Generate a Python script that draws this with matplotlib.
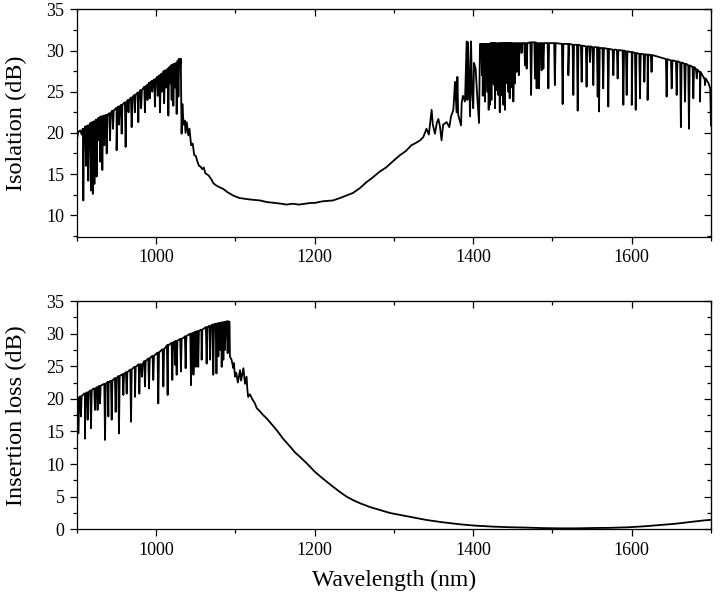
import numpy as np
import matplotlib
matplotlib.use("Agg")
import matplotlib.pyplot as plt
from matplotlib.ticker import MultipleLocator

plt.rcParams['font.family'] = ['Liberation Serif', 'DejaVu Serif']

# ---- isolation (top panel) ----
# upper envelope / smooth part of the curve
iso_wl = [900, 901.5, 904, 906, 907.5, 910, 920, 930, 940, 950, 960, 970, 980, 990,
          1000, 1010, 1020, 1025, 1029, 1030, 1031, 1032, 1033, 1034.5, 1036, 1037,
          1038.5, 1040.5, 1042, 1044, 1046, 1048, 1050, 1052, 1054, 1056, 1058, 1060,
          1062, 1066, 1070, 1072, 1076, 1080, 1084.6, 1090, 1097, 1105, 1112, 1120,
          1131, 1140, 1150, 1158, 1164.6, 1172, 1180, 1188, 1195, 1200, 1210, 1223,
          1232, 1240, 1248, 1257, 1265, 1272, 1282, 1290, 1298, 1307.6, 1315, 1322,
          1328, 1333, 1337, 1341, 1344, 1347.5, 1349, 1351.7, 1354, 1356, 1358, 1360,
          1362, 1366.5, 1369.8, 1372, 1374.9, 1377, 1379, 1380, 1381, 1384.6, 1385.4,
          1387, 1389.6, 1391.7, 1392.6, 1393.5, 1396, 1397.2, 1398.5, 1400, 1401,
          1403, 1405, 1407.3, 1408.5, 1410, 1440, 1470, 1500, 1520, 1540, 1560, 1580,
          1600, 1620, 1635, 1642, 1660, 1670, 1680, 1686, 1692, 1697, 1699, 1700]
iso_db = [19.2, 20.1, 20.3, 19.8, 20.4, 20.6, 21.3, 22.0, 22.3, 23.0, 23.7, 24.3, 25.1, 25.9,
          26.6, 27.4, 28.2, 28.5, 29.0, 28.0, 29.0, 19.9, 23.5, 21.0, 21.5, 20.0,
          21.3, 19.7, 20.5, 18.5, 18.7, 17.3, 17.2, 16.5, 16.0, 15.9, 15.6, 15.8,
          15.1, 14.85, 14.3, 13.9, 13.6, 13.4, 13.2, 12.8, 12.4, 12.1, 12.0, 11.9,
          11.8, 11.6, 11.5, 11.4, 11.3, 11.4, 11.3, 11.4, 11.5, 11.5, 11.7, 11.8,
          12.1, 12.4, 12.7, 13.3, 14.0, 14.5, 15.3, 15.8, 16.5, 17.3, 17.8, 18.5,
          18.8, 19.1, 19.5, 20.5, 19.8, 22.8, 21.0, 19.9, 21.2, 21.7, 20.8, 19.1,
          21.0, 21.3, 20.7, 22.0, 22.8, 26.2, 22.5, 26.8, 22.2, 20.9, 23.6,
          24.5, 23.8, 31.1, 24.0, 31.0, 22.0, 31.1, 25.0, 23.0, 28.5,
          27.8, 24.5, 21.2, 30.8, 30.8, 30.9, 30.95, 30.9, 30.8, 30.55, 30.3, 30.1,
          29.8, 29.5, 29.2, 29.0, 28.6, 28.3, 27.9, 27.4, 26.6, 26.0, 25.4, 20.9]
# narrow dips: position, level just beside the dip, level at the bottom
iso_dip_wl = [908, 911.5, 914.3, 917.7, 920, 922, 924.8, 927.8, 929.5, 932, 934.5, 937.5,
              941.7, 945.5, 950, 953, 956.4, 961.4, 965, 969, 973, 977.4, 981, 985.8,
              989, 992, 995, 998.4, 1002, 1004.8, 1007.5, 1010, 1012.5, 1015.3, 1017.5,
              1019.5, 1021.6, 1023.5, 1025.8, 1028,
              1411, 1412, 1414.9, 1416.5, 1418, 1419.5, 1421, 1423, 1424, 1426.6, 1427.5,
              1429.5, 1431.7, 1433.5, 1435, 1436.5, 1438, 1440, 1441, 1443, 1444.3, 1446,
              1447, 1449, 1450.6, 1452.5, 1454.8, 1457.5, 1461, 1465.3, 1467.4, 1473, 1478,
              1480, 1483, 1486.3, 1488.5, 1494.8, 1503, 1512.8, 1520, 1526.3, 1531.8,
              1536.8, 1543, 1547.3, 1551.5, 1557, 1558.7, 1564, 1570.4, 1576.8, 1582.2,
              1589.4, 1593.6, 1600, 1605, 1610.4, 1615.9, 1620, 1625, 1644, 1650.4,
              1656.7, 1662, 1667.2, 1672.2, 1677.7, 1682, 1686, 1692.4]
iso_dip_top = [20.5, 20.8, 20.9, 21.2, 21.3, 21.4, 21.6, 21.8, 21.9, 22.0, 22.1, 22.2,
               22.4, 22.7, 23.0, 23.2, 23.4, 23.7, 24.0, 24.3, 24.6, 24.9, 25.2, 25.6,
               25.8, 26.1, 26.3, 26.5, 26.8, 27.0, 27.2, 27.5, 27.6, 27.8, 28.0,
               28.2, 28.3, 28.4, 28.5, 28.8,
               30.8, 30.8, 30.8, 30.8, 30.8, 30.8, 30.8, 30.9, 30.9, 30.9, 30.9,
               30.9, 30.9, 30.9, 30.9, 30.9, 30.9, 30.9, 30.9, 30.9, 30.9, 30.9,
               30.9, 30.9, 30.9, 30.9, 30.9, 30.9, 30.9, 30.9, 30.9, 31.0, 31.0,
               30.9, 30.9, 30.9, 30.9, 30.9, 30.9, 30.8, 30.8, 30.7, 30.7,
               30.6, 30.5, 30.5, 30.4, 30.4, 30.3, 30.3, 30.2, 30.1, 30.05,
               30.0, 29.9, 29.8, 29.7, 29.6, 29.55, 29.5, 29.45, 28.95, 28.8,
               28.7, 28.55, 28.4, 28.2, 28.0, 27.7, 27.4, 26.6]
iso_dip_bot = [11.8, 16.0, 14.2, 13.0, 12.6, 13.8, 14.7, 19.1, 16.5, 15.5, 18.5, 17.5,
               19.1, 20.5, 17.9, 21.0, 19.9, 18.3, 22.5, 20.7, 22.5, 21.3, 23.0, 22.5,
               24.0, 24.2, 25.0, 23.2, 24.5, 22.5, 25.0, 23.6, 25.5, 22.1, 26.0,
               24.0, 23.3, 25.5, 22.3, 24.4,
               27.0, 24.5, 23.8, 26.5, 25.0, 22.8, 23.4, 24.0, 26.0, 25.8, 23.0,
               25.2, 24.6, 22.5, 26.5, 24.5, 23.4, 22.8, 26.0, 27.5, 25.0, 24.2,
               27.0, 25.5, 23.8, 26.0, 27.4, 27.0, 29.7, 28.2, 27.8, 24.6, 26.6,
               25.4, 25.4, 27.6, 27.8, 25.4, 25.8, 23.5, 27.0, 24.6, 22.7,
               26.2, 25.6, 28.6, 25.8, 24.4, 22.6, 25.4, 23.2, 27.0, 26.6,
               23.4, 24.6, 23.4, 22.8, 24.2, 26.2, 24.0, 27.4, 24.4, 25.4,
               24.6, 20.7, 23.8, 20.5, 24.2, 26.6, 23.8, 25.8]

# ---- insertion loss (bottom panel) ----
il_wl = [900, 910, 920, 931, 940, 952, 960, 973, 985, 994, 1005, 1015, 1025, 1036, 1046,
         1057, 1065, 1074, 1082, 1091, 1092.5, 1093, 1095, 1097.3, 1098, 1099.4, 1101,
         1103, 1105.7, 1107, 1110, 1112, 1114, 1115, 1116, 1118.3, 1121, 1124.6, 1126.7,
         1130, 1135, 1139.4, 1145, 1152, 1160, 1168.8, 1175, 1181.4, 1190, 1200.3,
         1210, 1223.4, 1232, 1240.3, 1248, 1257, 1270, 1282, 1295, 1307.6, 1325,
         1341, 1360, 1383, 1400, 1425, 1445, 1467.4, 1490, 1509.5, 1530, 1551.5,
         1570, 1593.6, 1615, 1635.6, 1655, 1677.7, 1690, 1700]
il_db = [19.8, 20.8, 21.5, 22.1, 22.6, 23.4, 23.9, 24.9, 25.8, 26.5, 27.3, 28.3, 28.9, 29.5, 30.1,
         30.6, 31.0, 31.5, 31.7, 31.9, 31.8, 26.5, 26.0, 24.7, 25.5, 23.4, 24.0,
         22.5, 24.4, 22.8, 24.7, 22.3, 23.4, 21.4, 20.3, 20.7, 20.0, 19.3, 18.6,
         18.2, 17.5, 17.0, 16.2, 15.2, 13.9, 12.7, 11.8, 11.1, 10.1, 8.8,
         7.8, 6.5, 5.7, 5.0, 4.5, 4.0, 3.4, 2.96, 2.5, 2.2, 1.8,
         1.43, 1.1, 0.77, 0.58, 0.41, 0.32, 0.26, 0.18, 0.15, 0.15, 0.2,
         0.22, 0.3, 0.45, 0.66, 0.85, 1.18, 1.35, 1.45]
il_dip_wl = [900.6, 901.7, 905, 910, 913.5, 917.7, 922.7, 926, 929, 935.4, 939.6, 943.8,
             948.8, 953, 958.5, 962.7, 968.2, 973.2, 978.7, 982, 985.8, 990.9, 996.3,
             1002.6, 1009, 1014.4, 1020.3, 1024, 1025.8, 1031.2, 1037.1, 1043.9, 1047,
             1049.8, 1053, 1057.3, 1063.6, 1068, 1072, 1076, 1078.4, 1080.5, 1082.6,
             1084.7, 1086.8, 1090.1]
il_dip_top = [20.0, 20.2, 20.4, 20.8, 21.0, 21.3, 21.6, 21.8, 22.0, 22.3, 22.6, 22.8,
              23.2, 23.5, 23.8, 24.1, 24.5, 24.9, 25.3, 25.3, 25.8, 26.2, 26.6,
              27.1, 27.6, 28.2, 28.6, 28.8, 28.9, 29.2, 29.6, 30.0, 30.1,
              30.3, 30.4, 30.6, 31.0, 31.2, 31.4, 31.5, 31.6, 31.65, 31.7,
              31.75, 31.8, 31.9]
il_dip_bot = [15.0, 14.7, 17.3, 13.9, 16.8, 15.5, 18.3, 18.3, 19.3, 13.7, 17.3, 16.8,
              18.0, 14.7, 20.6, 20.8, 16.5, 20.3, 20.8, 23.4, 21.9, 21.6, 22.9,
              19.3, 21.9, 20.6, 22.9, 25.2, 23.7, 24.2, 24.7, 22.1, 23.7,
              24.9, 24.9, 26.0, 25.4, 26.0, 23.7, 23.9, 26.5, 27.5, 24.9,
              26.0, 27.5, 27.0]

x_ticks = [1000, 1200, 1400, 1600]


def with_dips(wl, db, dip_wl, dip_top, dip_bot, half=0.9):
    # each dip is drawn as a narrow notch under the curve
    pts = list(zip(wl, db))
    for w, t, b in zip(dip_wl, dip_top, dip_bot):
        pts += [(w - half, t), (w, b), (w + half, t)]
    pts.sort(key=lambda p: p[0])
    x, y = zip(*pts)
    return np.array(x), np.array(y)


def style_axes(ax, ylim, yticks):
    ax.set_xlim(900, 1700)
    ax.set_ylim(*ylim)
    ax.set_xticks(x_ticks)
    ax.set_yticks(yticks)
    ax.xaxis.set_minor_locator(MultipleLocator(100))
    ax.yaxis.set_minor_locator(MultipleLocator(2.5))
    ax.tick_params(which='major', direction='out', length=5, width=0.9,
                   labelsize=13, pad=4)
    ax.tick_params(which='minor', direction='out', length=3, width=0.9)
    for s in ax.spines.values():
        s.set_linewidth(0.9)
    # mirrored ticks pointing inward on top and right
    top = ax.secondary_xaxis('top')
    top.set_xticks(x_ticks)
    top.xaxis.set_minor_locator(MultipleLocator(100))
    top.tick_params(which='major', direction='in', length=5, width=0.9, labeltop=False)
    top.tick_params(which='minor', direction='in', length=3, width=0.9)
    right = ax.secondary_yaxis('right')
    right.set_yticks(yticks)
    right.yaxis.set_minor_locator(MultipleLocator(2.5))
    right.tick_params(which='major', direction='in', length=5, width=0.9, labelright=False)
    right.tick_params(which='minor', direction='in', length=3, width=0.9)


fig = plt.figure(figsize=(7.2, 5.97), dpi=100)
ax1 = fig.add_axes([0.1069, 0.6035, 0.8806, 0.3809])
ax2 = fig.add_axes([0.1069, 0.1134, 0.8806, 0.3824])

x1, y1 = with_dips(iso_wl, iso_db, iso_dip_wl, iso_dip_top, iso_dip_bot)
ax1.plot(x1, y1, color='black', lw=1.3)
style_axes(ax1, (7.4, 35), [10, 15, 20, 25, 30, 35])
ax1.set_ylabel('Isolation (dB)', fontsize=17.5, labelpad=14)

x2, y2 = with_dips(il_wl, il_db, il_dip_wl, il_dip_top, il_dip_bot)
ax2.plot(x2, y2, color='black', lw=1.3)
style_axes(ax2, (0, 35), [0, 5, 10, 15, 20, 25, 30, 35])
ax2.set_ylabel('Insertion loss (dB)', fontsize=17.5, labelpad=14)
ax2.set_xlabel('Wavelength (nm)', fontsize=17, labelpad=8)

fig.savefig('out.png', dpi=100)
